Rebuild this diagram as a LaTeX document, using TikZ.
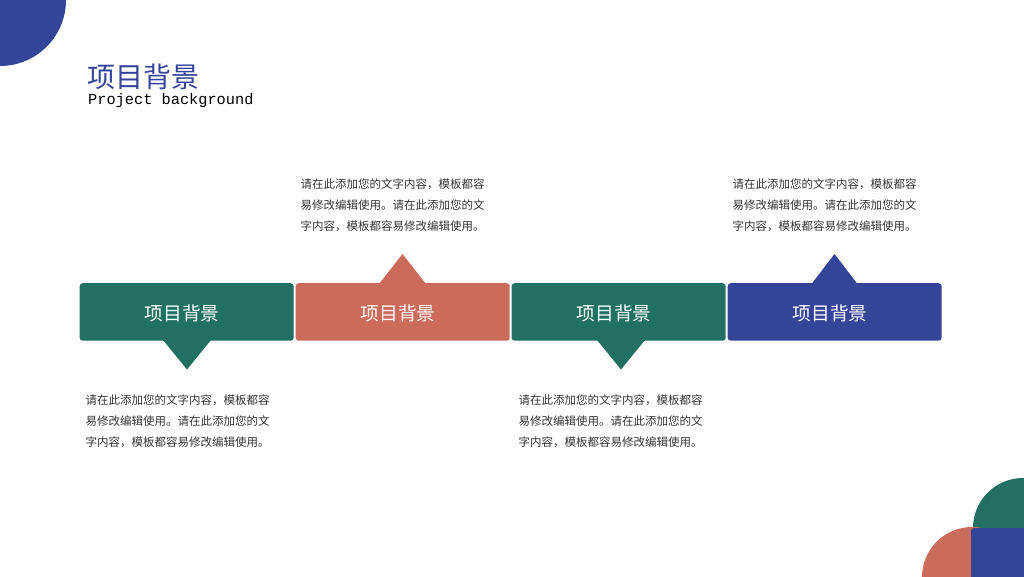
\documentclass[tikz,border=0pt]{standalone}
\usepackage{fontspec}
\setmainfont{Liberation Sans}
\newfontfamily\cjk{Noto Sans CJK SC}
\newfontfamily\monof{Liberation Mono}
\definecolor{cgreen}{HTML}{217061}
\definecolor{cred}{HTML}{CB6B5B}
\definecolor{cblue}{HTML}{334499}
\definecolor{ctext}{HTML}{333333}
\tikzset{
  stagebox/.style={fill=#1, draw=none, rounded corners=3pt, minimum width=214pt, minimum height=57.5pt, inner sep=0pt, anchor=north west},
  pointer/.style={fill=#1, draw=none},
  boxlabel/.style={text=white, font=\cjk\fontsize{18.7}{22}\selectfont, anchor=base, inner sep=0pt},
  para/.style={text=ctext, font=\cjk\fontsize{11.5}{21}\selectfont, align=left, anchor=base west, inner sep=0pt},
}
\begin{document}
\begin{tikzpicture}[x=1pt, y=-1pt]
\useasboundingbox (0,0) rectangle (1024,576);
% decorative corners
\begin{scope}
\clip (0,0) rectangle (1024,576);
\fill[cblue] (0,0) circle (66);
\fill[cgreen] (1023,528) circle (50);
\fill[cred] (972,577) circle (50);
\fill[cblue, rounded corners=3pt] (971,528) rectangle (1040,590);
\end{scope}
% title
\node[text=cblue, font=\cjk\fontsize{28}{30}\selectfont, anchor=base west, inner sep=0pt] (title) at (87,87) {项目背景};
\node[text=black, font=\monof\fontsize{15.3}{17}\selectfont, anchor=base west, inner sep=0pt] (subtitle) at (88,104) {Project background};
% pointers
\fill[pointer=cgreen] (163,340) -- (187,369.5) -- (211,340) -- cycle;
\fill[pointer=cred] (379,284) -- (402.5,254) -- (426,284) -- cycle;
\fill[pointer=cgreen] (597,340) -- (621,369.5) -- (645,340) -- cycle;
\fill[pointer=cblue] (811.5,284) -- (834.5,254) -- (857.5,284) -- cycle;
% boxes
\node[stagebox=cgreen] (b1) at (79.5,283) {};
\node[stagebox=cred] (b2) at (295.5,283) {};
\node[stagebox=cgreen] (b3) at (511.5,283) {};
\node[stagebox=cblue] (b4) at (727.5,283) {};
\node[boxlabel] (l1) at ([xshift=-4.5pt,yshift=-9pt]b1.center) {项目背景};
\node[boxlabel] (l2) at ([xshift=-4.5pt,yshift=-9pt]b2.center) {项目背景};
\node[boxlabel] (l3) at ([xshift=-4.5pt,yshift=-9pt]b3.center) {项目背景};
\node[boxlabel] (l4) at ([xshift=-4.5pt,yshift=-9pt]b4.center) {项目背景};
% paragraphs (anchor = baseline of last line)
\node[para] (p1) at (85.5,446) {请在此添加您的文字内容，模板都容\\易修改编辑使用。请在此添加您的文\\字内容，模板都容易修改编辑使用。};
\node[para] (p2) at (300.5,230.5) {请在此添加您的文字内容，模板都容\\易修改编辑使用。请在此添加您的文\\字内容，模板都容易修改编辑使用。};
\node[para] (p3) at (518.5,446) {请在此添加您的文字内容，模板都容\\易修改编辑使用。请在此添加您的文\\字内容，模板都容易修改编辑使用。};
\node[para] (p4) at (732.5,230.5) {请在此添加您的文字内容，模板都容\\易修改编辑使用。请在此添加您的文\\字内容，模板都容易修改编辑使用。};
\end{tikzpicture}
\end{document}
